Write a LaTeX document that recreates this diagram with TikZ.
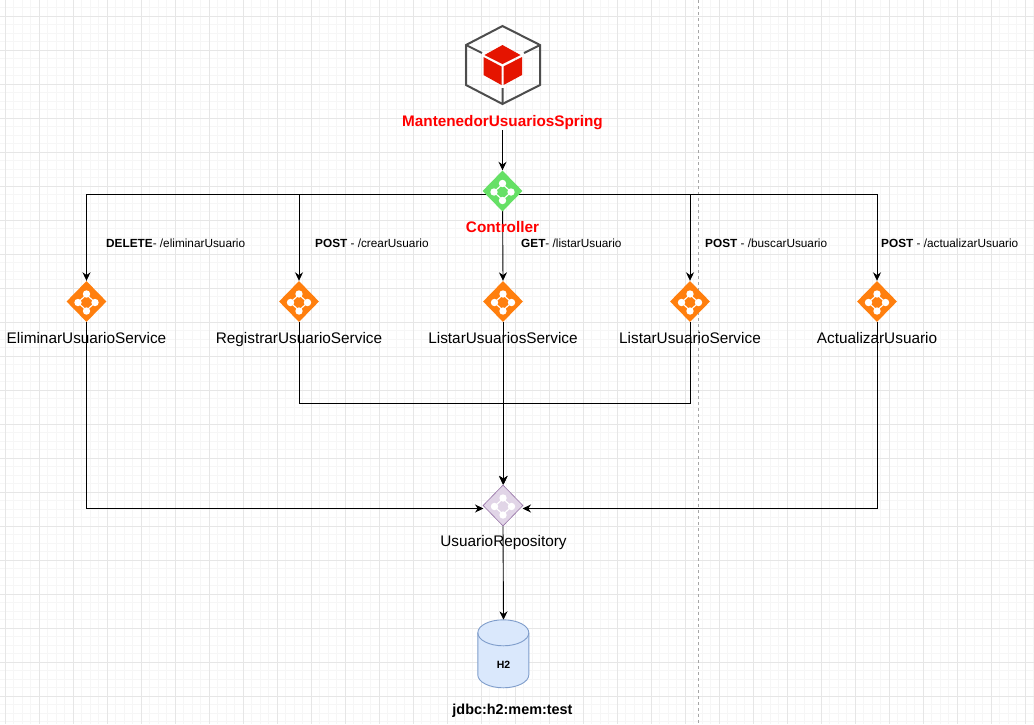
\documentclass[tikz,border=0pt]{standalone}
\usepackage{fontspec}
\setmainfont{Liberation Sans}
\usetikzlibrary{shapes.geometric,arrows.meta}
\pgfdeclarelayer{gridlayer}
\pgfdeclarelayer{edgelayer}
\pgfsetlayers{gridlayer,edgelayer,main}
\definecolor{gridminor}{HTML}{F6F6F6}
\definecolor{gridmajor}{HTML}{E6E6E6}
\definecolor{cubered}{HTML}{E51400}
\definecolor{hexgrey}{HTML}{4D4D4D}
\definecolor{ctrlgreen}{HTML}{66E066}
\definecolor{svcorange}{HTML}{FF7F0E}
\definecolor{repofill}{HTML}{E1D5E7}
\definecolor{repoline}{HTML}{9673A6}
\definecolor{dbfill}{HTML}{DAE8FC}
\definecolor{dbline}{HTML}{7F9DCB}
\tikzset{
  x=1pt,y=-1pt,
  conn/.style={draw=black,line width=0.9pt,-{Stealth[length=8.5pt,width=8pt]}},
  gem/.style={diamond,minimum width=40pt,minimum height=41pt,inner sep=0pt,aspect=1},
  ctrlgem/.style={gem,fill=ctrlgreen},
  svcgem/.style={gem,fill=svcorange},
  repogem/.style={gem,fill=repofill,draw=repoline,line width=0.6pt},
  svctext/.style={font=\fontsize{15.35}{18}\selectfont,inner sep=0pt,text=black,anchor=base},
  routetext/.style={font=\fontsize{11.8}{14}\selectfont,inner sep=0pt,anchor=base west,text=black},
  redtext/.style={font=\fontsize{15.3}{18}\selectfont\bfseries,inner sep=0pt,text=red,anchor=base},
  pics/gemicon/.style={code={
    \draw[white,line width=1.1pt] (0,-7)--(8.5,1)--(0,9)--(-8.5,1)--cycle;
    \fill[white] (0,-7.5) circle (3.7) (8.5,1) circle (3.7) (0,9.5) circle (3.7) (-8.5,1) circle (3.7);
  }},
}
\begin{document}
\begin{tikzpicture}
\useasboundingbox (0,0) rectangle (1034,724);
\begin{pgfonlayer}{gridlayer}
  \fill[white] (0,0) rectangle (1034,724);
  \foreach \i in {0,...,122}{\draw[gridminor,line width=1pt] ({5+8.5*\i},0) -- ({5+8.5*\i},724);}
  \foreach \i in {0,...,84}{\draw[gridminor,line width=1pt] (0,{7.5+8.5*\i}) -- (1034,{7.5+8.5*\i});}
  \foreach \i in {0,...,30}{\draw[gridmajor,line width=1pt] ({5+34*\i},0) -- ({5+34*\i},724);}
  \foreach \i in {0,...,21}{\draw[gridmajor,line width=1pt] (0,{16+34*\i}) -- (1034,{16+34*\i});}
  \draw[black!35,line width=1pt,dash pattern=on 3pt off 3pt] (698.5,0) -- (698.5,724);
\end{pgfonlayer}

% application icon
\draw[hexgrey,line width=2pt,line join=miter] (502.5,26)--(540,45)--(540,85)--(502.5,104)--(466,85)--(466,45)--cycle;
\draw[hexgrey,line width=2pt] (466,45)--(482,53) (540,45)--(524,53) (502.5,104)--(502.5,88);
\fill[cubered] (502.5,45)--(520.5,55)--(502.5,64)--(484.5,55)--cycle;
\fill[cubered] (483.5,57)--(501.5,66.5)--(501.5,85)--(483.5,75)--cycle;
\fill[cubered] (503.5,66.5)--(522,57)--(522,75)--(503.5,85)--cycle;
\node[redtext] (app) at (502.5,126) {MantenedorUsuariosSpring};

% nodes
\node[ctrlgem] (ctrl) at (502.5,191) {};
\pic at (ctrl) {gemicon};
\node[redtext] (ctrllabel) at (502.5,232) {Controller};
\coordinate (ctrlport) at (502.5,194);

\node[svcgem] (del) at (86.5,301.5) {};
\node[svcgem] (reg) at (299,301.5) {};
\node[svcgem] (lst) at (503,301.5) {};
\node[svcgem] (fnd) at (690,301.5) {};
\node[svcgem] (upd) at (877,301.5) {};
\foreach \n in {del,reg,lst,fnd,upd}{\pic at (\n) {gemicon};}
\node[svctext] (dellabel) at (86.5,343) {EliminarUsuarioService};
\node[svctext] (reglabel) at (299,343) {RegistrarUsuarioService};
\node[svctext] (lstlabel) at (503,343) {ListarUsuariosService};
\node[svctext] (fndlabel) at (690,343) {ListarUsuarioService};
\node[svctext] (updlabel) at (877,343) {ActualizarUsuario};

\node[routetext] (r1) at (106,247) {\textbf{DELETE}- /eliminarUsuario};
\node[routetext] (r2) at (315,247) {\textbf{POST} - /crearUsuario};
\node[routetext] (r3) at (521,247) {\textbf{GET}- /listarUsuario};
\node[routetext] (r4) at (705,247) {\textbf{POST} - /buscarUsuario};
\node[routetext] (r5) at (881,247) {\textbf{POST} - /actualizarUsuario};

\node[repogem] (repo) at (503,505.5) {};
\pic at (repo) {gemicon};
\node[svctext] (repolabel) at (503.5,546.5) {UsuarioRepository};
\coordinate (repoleft) at (483.5,508.5);
\coordinate (reporight) at (522.5,508.5);

% database cylinder
\node[minimum width=51pt,minimum height=68pt,inner sep=0pt] (db) at (503.5,654) {};
\draw[draw=dbline,fill=dbfill,line width=0.9pt]
  (db.north west) ++(0,13) arc[start angle=180,end angle=0,x radius=25.5,y radius=-13]
  -- ++(0,42) arc[start angle=0,end angle=-180,x radius=25.5,y radius=-13] -- cycle;
\draw[draw=dbline,line width=0.9pt]
  (db.north west) ++(0,13) arc[start angle=180,end angle=360,x radius=25.5,y radius=-13];
\node[font=\fontsize{10.5}{12}\selectfont\bfseries,inner sep=0pt] (dblabel) at (503.5,665) {H2};
\node[font=\fontsize{14.4}{16}\selectfont\bfseries,inner sep=0pt,anchor=base] (jdbc) at (512.5,714) {jdbc:h2:mem:test};

\begin{pgfonlayer}{edgelayer}
  \draw[conn] (app.south |- 0,130) -- (ctrl.north);
  \draw[conn] (ctrlport) -| (del.north);
  \draw[conn] (ctrlport) -| (reg.north);
  \draw[conn] (ctrlport) -- (lst.north);
  \draw[conn] (ctrlport) -| (fnd.north);
  \draw[conn] (ctrlport) -| (upd.north);
  \draw[conn] (del.south) |- (repoleft);
  \draw[conn] (upd.south) |- (reporight);
  \draw[conn] (lst.south) -- (repo.north);
  \coordinate (merge) at (503.5,403);
  \coordinate (mergeend) at (503.5,484.5);
  \draw[conn] (reg.south) |- (merge) -- (mergeend);
  \draw[conn] (fnd.south) |- (merge) -- (mergeend);
  \draw[conn] (repo.south) -- (db.north);
\end{pgfonlayer}
\end{tikzpicture}
\end{document}
